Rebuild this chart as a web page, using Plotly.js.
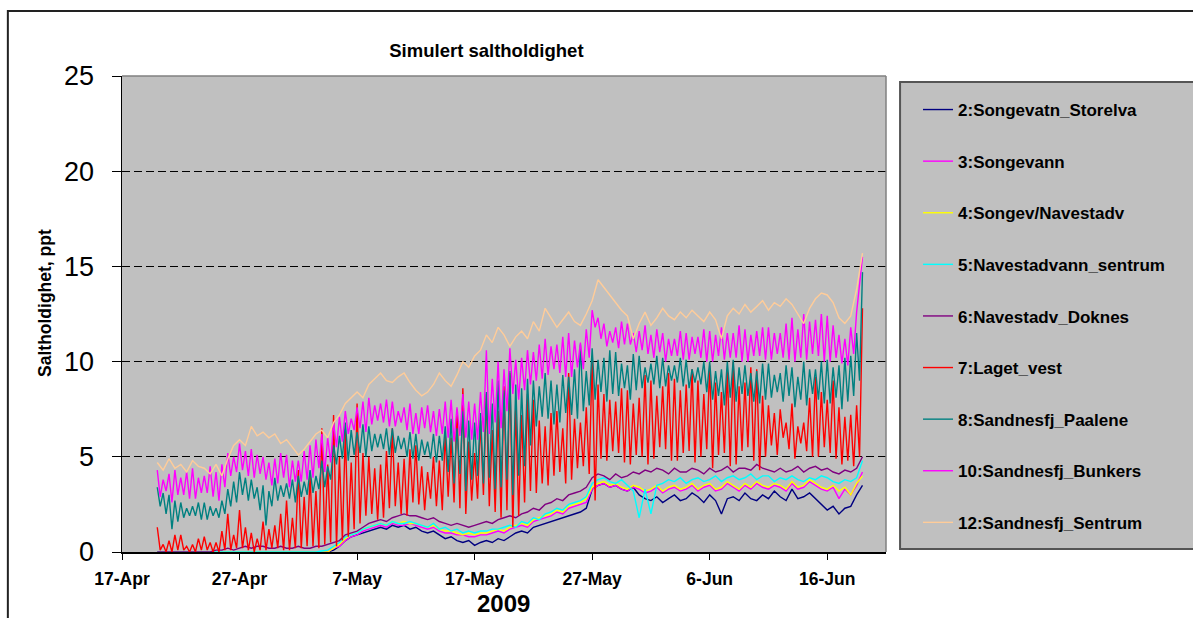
<!DOCTYPE html>
<html>
<head>
<meta charset="utf-8">
<script src="https://cdn.plot.ly/plotly-3.0.1.min.js"></script>
<style>
  html, body { margin: 0; padding: 0; background: #ffffff; }
  #chart { width: 1193px; height: 618px; }
</style>
</head>
<body>
<div id="chart"></div>
<script>
// ---- Data: samples start 20-Apr-2009 00:00 ----
const seriesStart = '2009-04-20T00:00:00Z';
const stepHoursSmooth = 12;  // s2..s6, s12
const stepHoursTidal = 6;    // s7, s8, s10

const seriesNames = [
  '2:Songevatn_Storelva', '3:Songevann', '4:Songev/Navestadv',
  '5:Navestadvann_sentrum', '6:Navestadv_Doknes', '7:Laget_vest',
  '8:Sandnesfj_Paalene', '10:Sandnesfj_Bunkers', '12:Sandnesfj_Sentrum'
];
const seriesColors = ['#000080', '#FF00FF', '#FFFF00', '#00FFFF', '#800080',
  '#FF0000', '#008080', '#FF00FF', '#FFCC99'];

// 12-hourly
const s2 = [
  0,0,0,0,0,0,0,0,0,0,
  0,0,0,0,0,0,0,0,0,0,
  0,0,0,0,0,0,0,0,0,0,
  0.1,0.3,0.6,0.8,0.9,1.0,1.1,1.2,1.3,1.2,
  1.4,1.3,1.4,1.2,1.3,1.1,1.0,1.1,0.9,0.7,
  0.8,0.6,0.5,0.6,0.35,0.5,0.6,0.5,0.7,0.6,
  0.8,1.0,1.1,1.0,1.3,1.4,1.5,1.6,1.7,1.8,
  1.9,2.0,2.1,2.3,3.3,3.5,3.6,3.4,3.5,3.3,
  3.2,3.4,3.0,2.8,2.7,2.9,2.6,2.8,3.0,2.7,
  2.8,3.1,2.9,2.6,3.0,2.7,2.0,2.8,2.9,2.7,
  3.1,2.8,2.7,3.0,2.8,3.2,2.9,2.7,3.3,2.8,
  2.9,3.1,2.8,2.5,2.2,2.4,2.0,2.3,2.4,3.0,
  3.5
];
const s3 = [
  0,0,0,0,0,0,0,0,0,0,
  0,0,0,0,0,0,0,0,0,0,
  0,0,0,0,0,0,0,0,0,0,
  0.2,0.3,0.6,0.8,0.9,1.1,1.2,1.3,1.4,1.3,
  1.5,1.4,1.4,1.5,1.4,1.3,1.2,1.3,1.1,1.0,
  1.0,0.9,0.9,0.8,0.8,0.9,0.9,1.0,1.1,1.0,
  1.2,1.3,1.4,1.3,1.6,1.7,1.8,1.9,2.1,2.0,
  2.3,2.4,2.5,2.6,3.3,3.5,3.6,3.4,3.5,3.3,
  3.2,3.4,3.3,3.1,3.2,3.4,3.1,3.3,3.4,3.2,
  3.3,3.5,3.2,3.4,3.5,3.2,3.3,3.6,3.4,3.2,
  3.5,3.3,3.6,3.4,3.3,3.5,3.4,3.2,3.6,3.3,
  3.4,3.7,3.5,3.3,3.2,3.4,2.8,3.3,3.0,3.5,
  4.2
];
const s4 = [
  0,0,0,0,0,0,0,0,0,0,
  0,0,0,0,0,0,0,0,0,0,
  0,0,0,0,0,0,0,0,0,0,
  0.2,0.4,0.7,0.9,1.0,1.2,1.3,1.4,1.5,1.4,
  1.6,1.5,1.6,1.5,1.5,1.4,1.3,1.4,1.2,1.1,
  1.1,1.0,0.9,1.0,0.9,1.0,1.0,1.1,1.2,1.1,
  1.3,1.4,1.5,1.4,1.7,1.8,1.9,2.0,2.2,2.1,
  2.4,2.5,2.6,2.8,3.4,3.6,3.7,3.5,3.6,3.4,
  3.3,3.5,3.4,3.2,3.3,3.5,3.2,3.4,3.5,3.3,
  3.4,3.6,3.3,3.5,3.6,3.3,3.4,3.7,3.5,3.3,
  3.6,3.4,3.7,3.5,3.4,3.6,3.5,3.3,3.7,3.4,
  3.5,3.8,3.6,3.4,3.3,3.5,3.2,3.4,3.0,3.6,
  4.0
];
const s5 = [
  0,0,0,0,0,0,0,0,0,0,
  0,0,0,0,0,0,0,0,0,0,
  0,0,0,0,0,0,0,0,0.05,0.1,
  0.3,0.5,0.8,0.9,1.0,1.2,1.3,1.4,1.5,1.4,
  1.6,1.5,1.5,1.6,1.5,1.4,1.3,1.5,1.2,1.3,
  1.1,1.2,1.0,1.1,1.0,1.1,1.1,1.2,1.2,1.3,
  1.4,1.3,1.6,1.5,1.8,1.7,2.0,2.1,2.3,2.2,
  2.5,2.6,2.7,2.9,3.6,3.8,3.9,3.7,3.6,3.8,
  3.5,3.2,1.8,3.3,2.0,3.5,3.6,3.8,3.7,3.9,
  3.6,3.8,3.9,3.7,3.8,4.0,3.7,3.9,4.0,3.8,
  3.9,4.1,3.8,4.0,4.0,3.7,3.9,3.8,4.0,3.8,
  3.7,3.9,3.8,4.0,3.9,3.7,3.6,3.8,3.7,3.9,
  4.8
];
const s6 = [
  0,0,0,0,0,0,0,0,0,0,
  0.1,0.1,0.2,0.1,0.2,0.3,0.2,0.3,0.3,0.2,
  0.2,0.3,0.2,0.2,0.3,0.2,0.2,0.3,0.3,0.4,
  0.5,0.6,0.9,1.0,1.1,1.3,1.5,1.6,1.7,1.6,
  1.8,1.9,2.0,1.9,1.9,1.8,1.7,1.8,1.6,1.5,
  1.4,1.5,1.4,1.3,1.4,1.5,1.6,1.5,1.7,1.8,
  1.9,1.8,2.0,2.1,2.3,2.2,2.5,2.6,2.8,2.7,
  3.0,3.1,3.2,3.4,3.9,4.1,4.0,3.8,4.1,3.9,
  4.0,4.2,4.1,4.3,4.2,4.4,4.3,4.1,4.4,4.2,
  4.2,4.4,4.3,4.1,4.4,4.2,4.3,4.5,4.2,4.4,
  4.4,4.3,4.6,4.4,4.3,4.2,4.4,4.2,4.3,4.5,
  4.2,4.4,4.5,4.3,4.4,4.2,4.1,4.3,4.2,4.4,
  5.0
];
// 6-hourly
const s7 = [
  1.3,0.1,0.4,0.0, 0.6,0.0,0.9,0.1, 0.9,0.1,0.3,0.0, 0.4,0.0,0.7,0.1, 0.8,0.1,0.5,0.0,
  0.5,0.0,1.1,0.1, 2.0,0.1,0.9,0.2, 2.2,0.2,1.3,0.1, 1.0,0.0,0.7,0.1, 1.6,0.1,1.2,0.2,
  1.4,0.2,2.0,0.1, 2.7,0.1,1.8,0.2, 4.3,0.2,2.9,0.3, 4.0,0.3,3.2,0.2, 6.5,0.4,4.6,0.5,
  7.2,0.3,5.0,0.6, 6.3,0.8,4.7,1.2, 7.8,1.5,5.2,1.9, 5.0,2.0,4.4,1.7, 4.6,1.8,5.3,2.3,
  6.5,2.4,4.7,2.0, 4.9,1.9,5.4,2.6, 5.6,2.5,4.5,2.2, 4.2,2.8,5.0,2.4, 4.8,2.2,6.2,2.9,
  6.0,2.6,7.5,2.3, 8.6,2.0,5.8,2.7, 5.2,2.8,6.9,3.0, 8.3,2.4,6.4,2.1, 7.4,1.8,8.7,2.2,
  9.4,1.3,7.6,1.9, 7.2,2.6,8.3,3.2, 8.0,3.1,6.9,3.6, 6.6,3.5,7.3,4.0, 7.4,4.2,6.5,3.6,
  9.4,3.8,7.0,4.4, 6.8,4.5,7.6,4.1, 10.2,2.7,8.8,4.9, 8.3,4.8,8.0,5.3, 7.9,5.2,8.6,4.7,
  8.5,4.6,7.8,5.1, 8.1,5.0,9.3,4.6, 9.0,4.9,8.2,5.5, 8.7,5.4,9.4,4.8, 9.1,4.8,8.5,5.2,
  8.8,5.3,9.6,4.7, 9.0,5.0,8.3,5.4, 9.8,4.4,8.9,5.1, 8.4,5.2,9.5,4.5, 10.0,4.6,8.7,5.3,
  8.9,5.5,9.7,4.8, 9.6,4.3,8.2,5.0, 7.7,5.6,7.3,5.1, 7.5,6.0,6.8,5.4, 7.8,4.9,6.6,5.7,
  6.8,5.3,8.1,5.0, 9.2,5.0,8.4,5.5, 8.0,5.2,9.0,4.9, 7.6,4.6,7.1,4.8, 7.2,4.5,7.7,5.0,
  12.8
];
const s8 = [
  3.4,2.4,3.1,2.0, 3.0,1.2,2.7,1.6, 2.6,1.8,2.3,1.9, 2.4,1.9,2.6,1.7, 2.6,1.7,2.4,1.9,
  2.3,1.8,2.7,2.0, 3.3,2.4,3.7,2.6, 4.2,3.0,3.9,2.7, 3.8,2.8,3.4,2.2, 3.5,1.4,3.2,2.4,
  3.9,2.7,3.5,2.9, 3.6,2.8,3.8,2.6, 4.0,2.9,3.7,3.0, 4.3,3.1,4.0,3.3, 4.8,3.4,4.5,3.8,
  5.6,4.6,6.1,4.9, 6.8,4.8,6.4,5.1, 6.3,5.2,6.7,5.0, 6.6,5.3,6.2,5.5, 6.2,5.4,6.5,5.1,
  6.5,5.2,6.1,5.4, 6.0,5.0,6.3,4.9, 6.2,4.8,5.9,5.1, 5.8,4.9,6.2,4.7, 6.1,4.8,6.6,4.2,
  7.0,3.6,6.5,4.1, 7.4,3.2,6.9,3.8, 6.8,4.0,7.3,3.6, 8.4,3.9,7.8,3.3, 9.0,3.4,8.5,3.8,
  9.5,3.0,8.8,4.0, 8.6,4.5,9.1,5.6, 9.0,6.6,8.7,7.1, 9.4,7.0,9.0,6.7, 8.8,6.8,9.3,7.3,
  9.2,7.2,9.6,7.0, 10.9,7.4,9.5,7.7, 10.7,8.0,10.1,8.4, 10.2,7.9,10.6,8.3, 10.5,8.2,9.9,8.6,
  9.8,8.0,10.4,8.5, 10.3,8.6,9.7,8.9, 9.9,8.8,10.3,8.6, 10.2,8.7,9.8,9.0, 9.8,8.9,10.2,8.7,
  10.1,8.6,9.6,8.9, 9.7,8.8,10.0,8.4, 10.0,8.0,9.5,8.2, 9.6,7.7,10.0,8.1, 10.1,7.9,9.7,8.3,
  9.8,8.2,9.4,7.9, 9.5,7.8,9.9,8.0, 9.9,8.1,9.3,8.4, 9.4,7.9,9.8,8.2, 9.7,7.6,9.2,8.0,
  10.0,7.7,9.6,8.3, 9.6,8.0,10.0,7.8, 10.1,7.8,9.7,8.1, 9.8,7.5,10.2,7.9, 10.3,8.2,11.5,9.0,
  14.7
];
const s10 = [
  4.3,2.9,3.8,3.2, 4.1,2.6,4.3,3.0, 3.9,3.0,4.2,2.8, 4.4,2.8,3.9,3.1, 4.0,3.1,4.5,2.9,
  4.2,2.7,4.6,3.4, 5.2,4.0,5.0,4.2, 5.7,4.3,5.3,4.0, 5.4,3.9,5.1,4.1, 5.0,3.8,4.7,3.5,
  4.9,3.6,5.2,3.9, 5.1,3.4,4.8,3.7, 4.8,3.7,5.3,3.8, 5.6,3.9,5.9,4.4, 6.2,4.2,6.0,4.7,
  6.8,5.5,7.1,5.8, 7.4,6.2,7.0,6.4, 7.6,6.5,7.9,6.3, 8.1,6.7,7.7,6.9, 7.8,6.8,8.0,6.6,
  7.9,6.6,7.4,6.8, 7.6,6.4,7.8,6.2, 7.3,6.2,7.6,6.5, 7.7,6.3,7.4,6.1, 7.5,6.2,7.9,6.0,
  8.0,5.8,7.6,6.1, 8.3,6.0,7.9,5.9, 7.8,5.9,8.4,6.3, 10.6,6.2,9.1,6.8, 10.0,6.5,9.6,7.4,
  10.7,8.3,10.1,8.0, 10.2,8.5,10.6,8.8, 10.5,9.0,10.9,9.1, 11.2,9.3,10.8,9.6, 10.9,9.4,11.3,9.2,
  11.5,9.2,11.1,9.7, 11.0,9.6,11.7,10.2, 12.7,11.8,12.3,11.2, 12.0,10.8,11.6,11.0, 11.8,10.7,12.1,10.9,
  12.0,10.9,11.5,10.5, 11.6,10.6,11.9,10.4, 11.4,10.2,11.7,10.5, 11.5,10.0,11.2,10.3, 11.2,10.3,11.6,10.1,
  11.5,10.1,11.3,10.4, 11.3,10.2,11.7,10.0, 11.6,10.0,11.4,10.3, 11.8,10.1,11.5,10.2, 11.5,10.2,11.9,10.0,
  11.7,10.0,11.4,10.3, 11.6,10.3,11.8,10.1, 11.8,10.1,11.5,10.4, 11.5,10.2,12.0,10.1, 12.3,10.0,11.7,10.2,
  12.5,10.1,12.1,10.4, 12.2,10.3,12.5,10.0, 12.4,10.0,11.9,10.2, 11.4,9.9,11.2,9.8, 11.8,10.4,12.6,13.9,
  15.5
];
// 12-hourly
const s12 = [
  4.7,4.3,4.9,4.4,4.6,4.2,4.8,4.5,4.4,4.1,
  4.6,4.0,4.9,5.6,5.9,5.6,6.6,6.1,6.3,6.0,
  6.2,5.7,5.9,5.5,5.1,5.4,5.8,6.2,6.4,6.0,
  6.8,7.2,7.8,8.1,8.4,8.1,8.8,9.1,9.4,9.0,
  8.9,9.2,9.4,8.9,8.5,8.2,8.4,8.8,9.4,9.0,
  8.7,9.3,10.0,9.7,10.3,10.6,11.4,11.0,11.8,11.4,
  10.8,11.3,11.6,11.2,12.1,11.6,12.8,12.3,11.8,12.2,
  12.6,12.1,11.9,12.5,13.2,14.3,13.9,13.5,13.1,12.7,
  12.4,11.2,12.0,12.6,11.9,12.3,12.8,12.4,12.2,12.6,
  12.3,12.7,12.4,12.1,12.6,12.2,11.2,12.4,12.8,12.5,
  13.0,12.6,12.9,13.2,12.7,13.1,12.9,13.3,13.0,12.5,
  12.0,12.8,13.3,13.6,13.5,13.1,12.3,12.0,12.4,13.8,
  15.7
];

const tickDates = ['2009-04-17', '2009-04-27', '2009-05-07', '2009-05-17', '2009-05-27', '2009-06-06', '2009-06-16'];
const tickLabels = ['17-Apr', '27-Apr', '7-May', '17-May', '27-May', '6-Jun', '16-Jun'];
const yTicks = [0, 5, 10, 15, 20, 25];

// ---- Build chart ----
const allSeries = [s2, s3, s4, s5, s6, s7, s8, s10, s12];
const seriesSteps = [stepHoursSmooth, stepHoursSmooth, stepHoursSmooth, stepHoursSmooth, stepHoursSmooth,
  stepHoursTidal, stepHoursTidal, stepHoursTidal, stepHoursSmooth];
const t0 = Date.parse(seriesStart);
function timesFor(arr, stepH) {
  return arr.map((_, i) => new Date(t0 + i * stepH * 3600e3).toISOString().slice(0, 16).replace('T', ' '));
}

const FONT = 'Arial, "Liberation Sans", sans-serif';

const traces = allSeries.map((vals, k) => ({
  type: 'scatter',
  mode: 'lines',
  x: timesFor(vals, seriesSteps[k]),
  y: vals,
  name: seriesNames[k],
  legendgroup: 'g' + k,
  line: { color: seriesColors[k], width: 1.4 },
  hoverinfo: 'skip'
}));

const layout = {
  width: 1193,
  height: 618,
  margin: { l: 122, r: 307, t: 76, b: 66, pad: 0 },
  paper_bgcolor: '#FFFFFF',
  plot_bgcolor: '#C0C0C0',
  font: { family: FONT, color: '#000000' },
  showlegend: true,
  title: {
    text: 'Simulert saltholdighet',
    font: { family: FONT, size: 18.5, weight: 700, color: '#000000' },
    x: 0.477, xref: 'paper', xanchor: 'center',
    y: 0.918, yref: 'container', yanchor: 'middle'
  },
  xaxis: {
    type: 'date',
    range: ['2009-04-17', '2009-06-21'],
    tickmode: 'array',
    tickvals: tickDates,
    ticktext: tickLabels,
    ticks: 'outside', ticklen: 6, tickwidth: 1, tickcolor: '#000000',
    showline: true, linecolor: '#000000', linewidth: 1.5,
    showgrid: false, zeroline: false,
    tickfont: { family: FONT, size: 17.5, weight: 700, color: '#000000' },
    ticklabelstandoff: 4
  },
  yaxis: {
    range: [0, 25],
    tickmode: 'array',
    tickvals: yTicks,
    ticks: 'outside', ticklen: 9, tickwidth: 1, tickcolor: '#000000',
    showline: true, linecolor: '#000000', linewidth: 1.5,
    showgrid: true, gridcolor: '#000000', gridwidth: 1, griddash: '8px,4px',
    zeroline: false,
    tickfont: { family: FONT, size: 27, color: '#000000' },
    ticklabelstandoff: 12
  },
  legend: {
    x: 1.0419, xref: 'paper', xanchor: 'left',
    y: 0.9664, yref: 'paper', yanchor: 'top',
    bgcolor: 'rgba(0,0,0,0)', borderwidth: 0,
    traceorder: 'grouped', tracegroupgap: 26.5,
    font: { family: FONT, size: 17, weight: 700, color: '#000000' }
  },
  annotations: [
    {
      text: 'Saltholdighet, ppt', textangle: -90,
      xref: 'paper', yref: 'paper', x: -0.1009, y: 0.523,
      xanchor: 'center', yanchor: 'middle', showarrow: false,
      font: { family: FONT, size: 17.5, weight: 700, color: '#000000' }
    },
    {
      text: '2009',
      xref: 'paper', yref: 'paper', x: 0.4993, y: -0.109,
      xanchor: 'center', yanchor: 'middle', showarrow: false,
      font: { family: FONT, size: 24, weight: 700, color: '#000000' }
    }
  ],
  shapes: [
    // outer chart frame
    { type: 'rect', xref: 'paper', yref: 'paper', x0: -0.1494, x1: 1.6, y0: -0.5, y1: 1.1366,
      line: { color: '#222222', width: 2 }, fillcolor: 'rgba(0,0,0,0)', layer: 'below' },
    // legend frame
    { type: 'rect', xref: 'paper', yref: 'paper', x0: 1.0184, x1: 1.6, y0: 0.0063, y1: 0.9874,
      line: { color: '#555555', width: 2 }, fillcolor: '#C0C0C0', layer: 'below' },
    // plot area top / right border
    { type: 'line', xref: 'paper', yref: 'paper', x0: 0, x1: 1, y0: 1, y1: 1,
      line: { color: '#808080', width: 1.5 }, layer: 'above' },
    { type: 'line', xref: 'paper', yref: 'paper', x0: 1, x1: 1, y0: 0, y1: 1,
      line: { color: '#808080', width: 1.5 }, layer: 'above' }
  ]
};

Plotly.newPlot('chart', traces, layout, { staticPlot: true, displayModeBar: false });
</script>
</body>
</html>
